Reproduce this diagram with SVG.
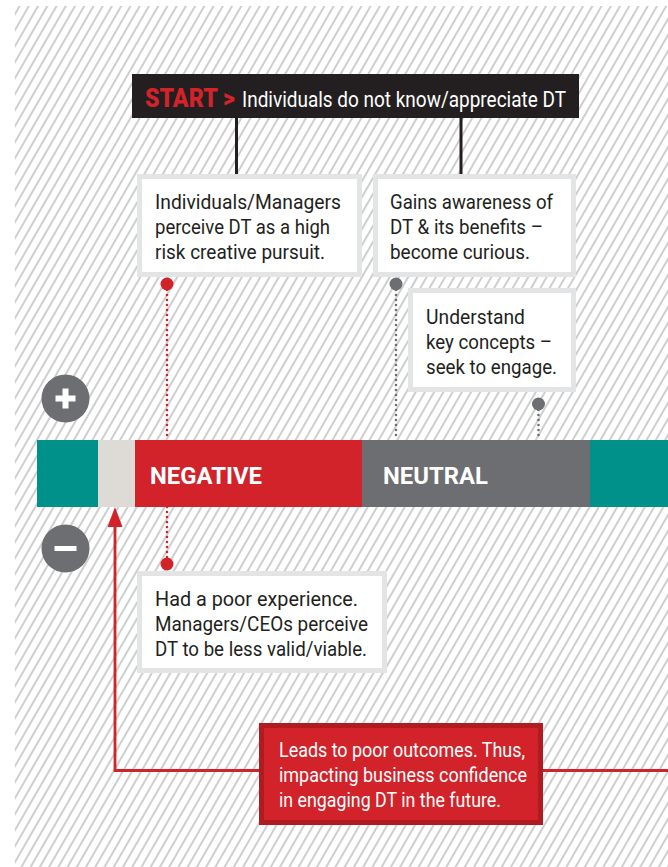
<svg xmlns="http://www.w3.org/2000/svg" width="668" height="867" viewBox="0 0 668 867">
<defs>
<pattern id="hatch" patternUnits="userSpaceOnUse" width="8" height="8" patternTransform="rotate(30)">
<line x1="4" y1="-1" x2="4" y2="9" stroke="#b3b3b3" stroke-width="1.3"/>
</pattern>
<marker id="arrowUp" viewBox="0 0 20 15" markerWidth="20" markerHeight="15" refX="0" refY="7.5" orient="auto" markerUnits="userSpaceOnUse">
<path d="M0,0 L20,7.5 L0,15 z" fill="#d2232a"/>
</marker>
<style>
.box{fill:#ffffff;stroke:#e3e4e5;stroke-width:5}
.txt{font-family:Roboto,"Liberation Sans",sans-serif;font-size:20.5px;fill:#231f20}
.wtxt{font-family:Roboto,"Liberation Sans",sans-serif;font-size:20.5px;fill:#ffffff}
.bold{font-family:Roboto,"Liberation Sans",sans-serif;font-weight:bold;fill:#ffffff;font-size:23px}
.dotR{stroke:#d2232a;stroke-width:2.6;stroke-linecap:round;stroke-dasharray:0 5;fill:none}
.dotG{stroke:#6d6e71;stroke-width:2.6;stroke-linecap:round;stroke-dasharray:0 5;fill:none}
.stem{stroke:#231f20;stroke-width:3;fill:none}
</style>
</defs>
<rect x="0" y="0" width="668" height="867" fill="#ffffff"/>
<rect x="15" y="6" width="653" height="861" fill="url(#hatch)"/>

<g id="connectors">
<line class="stem" x1="236.5" y1="117" x2="236.5" y2="176"/>
<line class="stem" x1="461" y1="117" x2="461" y2="176"/>
<line class="dotR" x1="167" y1="290" x2="167" y2="440"/>
<line class="dotR" x1="167" y1="507" x2="167" y2="558"/>
<line class="dotG" x1="396" y1="290" x2="396" y2="440"/>
<line class="dotG" x1="538.5" y1="410" x2="538.5" y2="440"/>
<polyline points="668,770.5 115,770.5 115,527" fill="none" stroke="#d2232a" stroke-width="2.8" marker-end="url(#arrowUp)"/>
<circle cx="167" cy="284" r="6.5" fill="#d2232a"/>
<circle cx="396" cy="284" r="6.5" fill="#6d6e71"/>
<circle cx="538.5" cy="404" r="6.5" fill="#6d6e71"/>
<circle cx="167" cy="564" r="6.5" fill="#d2232a"/>
</g>

<g id="start">
<rect x="132" y="74" width="447" height="44" fill="#231f20"/>
<text x="145" y="106.5" font-family="Roboto,'Liberation Sans',sans-serif" font-weight="900" font-size="25" fill="#d2232a" textLength="90" lengthAdjust="spacingAndGlyphs">START &gt;</text>
<text x="242" y="106.5" font-family="Roboto,'Liberation Sans',sans-serif" font-size="22" fill="#ffffff" textLength="324" lengthAdjust="spacingAndGlyphs">Individuals do not know/appreciate DT</text>
</g>

<g id="box-perceive">
<rect class="box" x="139.5" y="176.5" width="220" height="98"/>
<text class="txt" x="155" y="209" textLength="186" lengthAdjust="spacingAndGlyphs">Individuals/Managers</text>
<text class="txt" x="155" y="234" textLength="175" lengthAdjust="spacingAndGlyphs">perceive DT as a high</text>
<text class="txt" x="155" y="259" textLength="170" lengthAdjust="spacingAndGlyphs">risk creative pursuit.</text>
</g>

<g id="box-awareness">
<rect class="box" x="375.5" y="176.5" width="198" height="98"/>
<text class="txt" x="390" y="209" textLength="163" lengthAdjust="spacingAndGlyphs">Gains awareness of</text>
<text class="txt" x="390" y="234" textLength="153" lengthAdjust="spacingAndGlyphs">DT &amp; its benefits –</text>
<text class="txt" x="390" y="259" textLength="140" lengthAdjust="spacingAndGlyphs">become curious.</text>
</g>

<g id="box-understand">
<rect class="box" x="410.5" y="290.5" width="163" height="99"/>
<text class="txt" x="426" y="324" textLength="99" lengthAdjust="spacingAndGlyphs">Understand</text>
<text class="txt" x="426" y="349" textLength="126" lengthAdjust="spacingAndGlyphs">key concepts –</text>
<text class="txt" x="426" y="374" textLength="131" lengthAdjust="spacingAndGlyphs">seek to engage.</text>
</g>

<g id="scale-bar">
<rect x="37" y="440" width="61" height="67" fill="#00928a"/>
<rect x="98" y="440" width="37" height="67" fill="#dedad6"/>
<rect x="135" y="440" width="227" height="67" fill="#d2232a"/>
<rect x="362" y="440" width="228" height="67" fill="#6d6e71"/>
<rect x="590" y="440" width="78" height="67" fill="#00928a"/>
<text class="bold" x="150" y="484" textLength="112" lengthAdjust="spacingAndGlyphs">NEGATIVE</text>
<text class="bold" x="383" y="484" textLength="105" lengthAdjust="spacingAndGlyphs">NEUTRAL</text>
</g>

<g id="plus">
<circle cx="65.5" cy="398.5" r="24" fill="#6d6e71"/>
<rect x="55.5" y="395.5" width="20" height="6" fill="#ffffff"/>
<rect x="62.5" y="388.5" width="6" height="20" fill="#ffffff"/>
</g>

<g id="minus">
<circle cx="65.5" cy="548.5" r="24" fill="#6d6e71"/>
<rect x="54.5" y="546" width="22" height="5" fill="#ffffff"/>
</g>

<g id="box-poor-experience">
<rect class="box" x="139.5" y="573.5" width="245" height="97"/>
<text class="txt" x="155" y="606" textLength="203" lengthAdjust="spacingAndGlyphs">Had a poor experience.</text>
<text class="txt" x="155" y="631" textLength="213" lengthAdjust="spacingAndGlyphs">Managers/CEOs perceive</text>
<text class="txt" x="155" y="656" textLength="212" lengthAdjust="spacingAndGlyphs">DT to be less valid/viable.</text>
</g>

<g id="box-outcomes">
<rect x="261.5" y="725.5" width="279" height="97" fill="#d2232a" stroke="#b01b21" stroke-width="5"/>
<text class="wtxt" x="279" y="757" textLength="246" lengthAdjust="spacingAndGlyphs">Leads to poor outcomes. Thus,</text>
<text class="wtxt" x="279" y="782" textLength="248" lengthAdjust="spacingAndGlyphs">impacting business confidence</text>
<text class="wtxt" x="279" y="807" textLength="222" lengthAdjust="spacingAndGlyphs">in engaging DT in the future.</text>
</g>
</svg>
